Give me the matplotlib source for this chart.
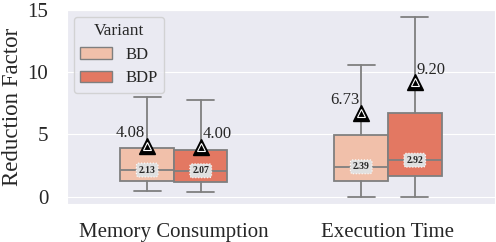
import matplotlib
matplotlib.use("Agg")
import matplotlib.pyplot as plt
import seaborn as sns
from matplotlib.patches import Patch

sns.set_style("darkgrid")
plt.rcParams['font.family'] = ['Liberation Serif', 'DejaVu Serif']

groups = ["Memory Consumption", "Execution Time"]
variants = ["BD", "BDP"]
colors = {"BD": "#f1c0aa", "BDP": "#e37862"}

# box statistics
whislo = {"BD": [0.42, 0.0], "BDP": [0.40, 0.0]}
q1 = {"BD": [1.22, 1.26], "BDP": [1.20, 1.68]}
med = {"BD": [2.13, 2.39], "BDP": [2.07, 2.92]}
q3 = {"BD": [3.94, 4.98], "BDP": [3.78, 6.70]}
whishi = {"BD": [8.02, 10.6], "BDP": [7.74, 14.4]}
means = {"BD": [4.08, 6.73], "BDP": [4.00, 9.20]}

fig = plt.figure(figsize=(4.96, 2.42), dpi=100)
ax = fig.add_axes([0.135, 0.157, 0.863, 0.802])

width = 0.25
offsets = {"BD": -0.125, "BDP": 0.125}
gray = "#7f7f7f"

for v in variants:
    stats = []
    for i in range(len(groups)):
        stats.append(dict(whislo=whislo[v][i], q1=q1[v][i], med=med[v][i],
                          q3=q3[v][i], whishi=whishi[v][i], fliers=[]))
    pos = [i + offsets[v] for i in range(len(groups))]
    ax.bxp(stats, positions=pos, widths=width, patch_artist=True,
           showfliers=False, manage_ticks=False,
           boxprops=dict(facecolor=colors[v], edgecolor=gray, linewidth=1.3),
           whiskerprops=dict(color=gray, linewidth=1.3),
           capprops=dict(color=gray, linewidth=1.3),
           medianprops=dict(color=gray, linewidth=1.3))
    for i, p in enumerate(pos):
        m = means[v][i]
        ax.plot(p, m, marker="^", color="black", markersize=11, zorder=5)
        ax.plot(p, m, marker="^", markerfacecolor="black", markeredgecolor="white",
                markeredgewidth=0.8, markersize=6, zorder=6)
        if v == "BD":
            ax.text(p - 0.01, m + 0.35, f"{m:.2f}", ha="right", va="bottom",
                    fontsize=12, zorder=7)
        else:
            ax.text(p + 0.01, m + 0.35, f"{m:.2f}", ha="left", va="bottom",
                    fontsize=12, zorder=7)
        ax.text(p, med[v][i], f"{med[v][i]:.2f}", ha="center", va="center",
                fontsize=7, fontweight="bold", zorder=7,
                bbox=dict(boxstyle="round,pad=0.25", facecolor="#e0e0e0",
                          edgecolor="white", linestyle=":", linewidth=0.8))

ax.set_xlim(-0.5, 1.5)
ax.set_ylim(-0.6, 15)
ax.set_yticks([0, 5, 10, 15])
ax.set_xticks(range(len(groups)))
ax.set_xticklabels(groups, fontsize=15)
ax.tick_params(axis="y", labelsize=15, pad=10)
ax.tick_params(axis="x", pad=10)
ax.grid(False, axis="x")
ax.set_ylabel("Reduction Factor", fontsize=16.5)
ax.yaxis.set_label_coords(-0.103, 0.5)

handles = [Patch(facecolor=colors[v], edgecolor=gray, label=v) for v in variants]
leg = ax.legend(handles=handles, title="Variant", loc="upper left",
                fontsize=12, title_fontsize=12.5, frameon=True,
                borderaxespad=0.4, labelspacing=0.45, handlelength=1.9)

fig.savefig("out.png", dpi=100)
